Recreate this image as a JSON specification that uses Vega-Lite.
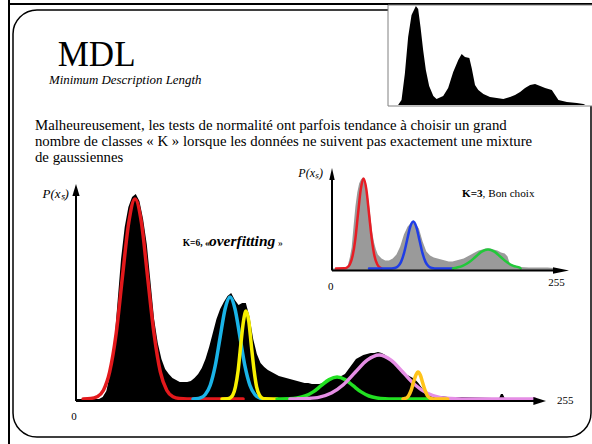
{
  "$schema": "https://vega.github.io/schema/vega-lite/v6.json",
  "width": 578,
  "height": 427,
  "autosize": {"type": "none"},
  "padding": {"left": 13, "top": 10, "right": 1, "bottom": 7},
  "background": "white",
  "config": {
    "view": {"stroke": "#000", "strokeWidth": 1.5, "cornerRadius": 24},
    "mark": {"font": "Liberation Serif"},
    "text": {"font": "Liberation Serif", "color": "#000"}
  },
  "datasets": {
    "main_hist": [
      {"g":0,"n":0},{"g":10,"n":0},{"g":12,"n":0},{"g":14,"n":2},{"g":16,"n":8},{"g":18,"n":25},{"g":20,"n":48},{"g":22,"n":95},{"g":24,"n":140},{"g":26,"n":172},{"g":28,"n":192},{"g":30,"n":202},{"g":32,"n":205},{"g":34,"n":198},{"g":36,"n":180},{"g":38,"n":155},{"g":40,"n":118},{"g":42,"n":80},{"g":44,"n":56},{"g":46,"n":40},{"g":48,"n":30},{"g":50,"n":25},{"g":52,"n":21},{"g":54,"n":19},{"g":56,"n":17},{"g":58,"n":17},{"g":60,"n":17},{"g":62,"n":18},{"g":64,"n":21},{"g":66,"n":25},{"g":68,"n":31},{"g":70,"n":40},{"g":72,"n":52},{"g":74,"n":66},{"g":76,"n":80},{"g":78,"n":90},{"g":80,"n":97},{"g":82,"n":103},{"g":84,"n":106},{"g":86,"n":99},{"g":88,"n":94},{"g":90,"n":96},{"g":92,"n":96},{"g":94,"n":82},{"g":96,"n":60},{"g":98,"n":45},{"g":100,"n":36},{"g":102,"n":32},{"g":104,"n":29},{"g":106,"n":27},{"g":108,"n":25},{"g":110,"n":23},{"g":112,"n":22},{"g":114,"n":21},{"g":116,"n":20},{"g":118,"n":19},{"g":120,"n":18},{"g":122,"n":17},{"g":124,"n":16},{"g":126,"n":16},{"g":128,"n":15},{"g":130,"n":15},{"g":132,"n":15},{"g":134,"n":16},{"g":136,"n":18},{"g":138,"n":20},{"g":140,"n":21},{"g":142,"n":22},{"g":144,"n":23},{"g":146,"n":25},{"g":148,"n":30},{"g":150,"n":35},{"g":152,"n":40},{"g":154,"n":42},{"g":156,"n":44},{"g":158,"n":45},{"g":160,"n":46},{"g":162,"n":46},{"g":164,"n":47},{"g":166,"n":46},{"g":168,"n":44},{"g":170,"n":41},{"g":172,"n":37},{"g":174,"n":33},{"g":176,"n":29},{"g":178,"n":26},{"g":180,"n":24},{"g":182,"n":22},{"g":184,"n":20},{"g":186,"n":16},{"g":188,"n":11},{"g":190,"n":7},{"g":192,"n":5},{"g":194,"n":4},{"g":196,"n":3},{"g":198,"n":3},{"g":202,"n":2},{"g":210,"n":2},{"g":218,"n":1.5},{"g":226,"n":1},{"g":230,"n":1},{"g":231,"n":5},{"g":232,"n":5},{"g":233,"n":1},{"g":236,"n":0.5},{"g":240,"n":0}
    ],
    "main_fit": [
      {"c":"k1","g":3.3,"p":0},{"c":"k1","g":7.5,"p":0.4},{"c":"k1","g":10.9,"p":2.2},{"c":"k1","g":14.4,"p":8.8},{"c":"k1","g":17.8,"p":27.1},{"c":"k1","g":21.3,"p":64.9},{"c":"k1","g":24.7,"p":121.3},{"c":"k1","g":28.2,"p":176.5},{"c":"k1","g":31.6,"p":200},{"c":"k1","g":35.1,"p":176.5},{"c":"k1","g":38.5,"p":121.3},{"c":"k1","g":42,"p":64.9},{"c":"k1","g":45.4,"p":27.1},{"c":"k1","g":48.9,"p":8.8},{"c":"k1","g":52.3,"p":2.2},{"c":"k1","g":55.8,"p":0.4},{"c":"k1","g":60,"p":0},{"c":"k1","g":90.5,"p":0},
      {"c":"k2","g":63.2,"p":0},{"c":"k2","g":64.5,"p":0.2},{"c":"k2","g":67.2,"p":1.1},{"c":"k2","g":69.9,"p":4.5},{"c":"k2","g":72.6,"p":13.8},{"c":"k2","g":75.3,"p":33.1},{"c":"k2","g":78,"p":61.9},{"c":"k2","g":80.7,"p":90},{"c":"k2","g":83.4,"p":102},{"c":"k2","g":86.1,"p":90},{"c":"k2","g":88.8,"p":61.9},{"c":"k2","g":91.5,"p":33.1},{"c":"k2","g":94.2,"p":13.8},{"c":"k2","g":96.9,"p":4.5},{"c":"k2","g":99.6,"p":1.1},{"c":"k2","g":100.8,"p":0},
      {"c":"k3","g":79,"p":0},{"c":"k3","g":82,"p":0.2},{"c":"k3","g":83.4,"p":1},{"c":"k3","g":84.9,"p":3.9},{"c":"k3","g":86.3,"p":11.9},{"c":"k3","g":87.8,"p":28.6},{"c":"k3","g":89.2,"p":53.4},{"c":"k3","g":90.7,"p":77.7},{"c":"k3","g":92.1,"p":88},{"c":"k3","g":93.6,"p":77.7},{"c":"k3","g":95,"p":53.4},{"c":"k3","g":96.5,"p":28.6},{"c":"k3","g":97.9,"p":11.9},{"c":"k3","g":99.4,"p":3.9},{"c":"k3","g":100.8,"p":1},{"c":"k3","g":102.3,"p":0.2},{"c":"k3","g":109,"p":0},
      {"c":"k4","g":109,"p":0},{"c":"k4","g":115.6,"p":0.2},{"c":"k4","g":120,"p":1},{"c":"k4","g":124.3,"p":3},{"c":"k4","g":128.7,"p":7.1},{"c":"k4","g":133,"p":13.3},{"c":"k4","g":137.4,"p":19.4},{"c":"k4","g":141.7,"p":22},{"c":"k4","g":146.1,"p":19.4},{"c":"k4","g":150.4,"p":13.3},{"c":"k4","g":154.8,"p":7.1},{"c":"k4","g":159.1,"p":3},{"c":"k4","g":163.5,"p":1},{"c":"k4","g":167.8,"p":0.2},{"c":"k4","g":172,"p":0},{"c":"k4","g":192.3,"p":0},
      {"c":"k5","g":116,"p":0},{"c":"k5","g":119.1,"p":0.1},{"c":"k5","g":125.6,"p":0.5},{"c":"k5","g":132.1,"p":1.9},{"c":"k5","g":138.6,"p":6},{"c":"k5","g":145.1,"p":14.3},{"c":"k5","g":151.6,"p":26.7},{"c":"k5","g":158.1,"p":38.8},{"c":"k5","g":164.6,"p":44},{"c":"k5","g":171.1,"p":38.8},{"c":"k5","g":177.6,"p":26.7},{"c":"k5","g":184.1,"p":14.3},{"c":"k5","g":190.6,"p":6},{"c":"k5","g":197.1,"p":1.9},{"c":"k5","g":203.6,"p":0.5},{"c":"k5","g":210.1,"p":0.1},{"c":"k5","g":216,"p":0},{"c":"k5","g":249.5,"p":0},
      {"c":"k6","g":177.6,"p":0},{"c":"k6","g":178.3,"p":0.3},{"c":"k6","g":179.6,"p":1.2},{"c":"k6","g":180.8,"p":3.7},{"c":"k6","g":182.1,"p":8.8},{"c":"k6","g":183.3,"p":16.4},{"c":"k6","g":184.6,"p":23.8},{"c":"k6","g":185.8,"p":27},{"c":"k6","g":187.1,"p":23.8},{"c":"k6","g":188.3,"p":16.4},{"c":"k6","g":189.6,"p":8.8},{"c":"k6","g":190.8,"p":3.7},{"c":"k6","g":192.1,"p":1.2},{"c":"k6","g":193.3,"p":0.3},{"c":"k6","g":195,"p":0},{"c":"k6","g":202,"p":0}
    ],
    "inset_hist": [
      {"d":0,"h":0},{"d":12,"h":0},{"d":14,"h":1},{"d":16,"h":3.5},{"d":18,"h":11},{"d":20,"h":21},{"d":22,"h":42},{"d":24,"h":62},{"d":26,"h":76},{"d":28,"h":85},{"d":30,"h":89},{"d":32,"h":91},{"d":34,"h":88},{"d":36,"h":80},{"d":38,"h":68},{"d":40,"h":52},{"d":42,"h":36},{"d":44,"h":26},{"d":46,"h":19},{"d":48,"h":14},{"d":50,"h":12},{"d":52,"h":10},{"d":56,"h":8},{"d":60,"h":8},{"d":64,"h":10},{"d":68,"h":14},{"d":72,"h":22},{"d":76,"h":34},{"d":80,"h":42},{"d":84,"h":46},{"d":86,"h":48},{"d":88,"h":45},{"d":92,"h":40},{"d":96,"h":27},{"d":100,"h":17},{"d":104,"h":13},{"d":108,"h":11},{"d":112,"h":10},{"d":116,"h":9},{"d":120,"h":8},{"d":124,"h":7},{"d":128,"h":7},{"d":132,"h":8},{"d":136,"h":9},{"d":140,"h":10},{"d":144,"h":12},{"d":148,"h":14},{"d":152,"h":16},{"d":156,"h":18},{"d":160,"h":19},{"d":164,"h":20},{"d":168,"h":20},{"d":172,"h":19},{"d":176,"h":18},{"d":180,"h":16},{"d":184,"h":15},{"d":187,"h":12},{"d":190,"h":3},{"d":194,"h":2},{"d":200,"h":1.5},{"d":210,"h":1},{"d":220,"h":1},{"d":230,"h":1},{"d":236,"h":0.5},{"d":240,"h":0}
    ],
    "inset_fit": [
      {"c":"r","d":3.2,"p":0},{"c":"r","d":12,"p":0.2},{"c":"r","d":15,"p":1},{"c":"r","d":18,"p":4},{"c":"r","d":20.9,"p":12.2},{"c":"r","d":23.9,"p":29.2},{"c":"r","d":26.8,"p":54.6},{"c":"r","d":29.8,"p":79.4},{"c":"r","d":32.7,"p":90},{"c":"r","d":35.7,"p":79.4},{"c":"r","d":38.6,"p":54.6},{"c":"r","d":41.6,"p":29.2},{"c":"r","d":44.5,"p":12.2},{"c":"r","d":47.5,"p":4},{"c":"r","d":50.4,"p":1},{"c":"r","d":52,"p":0},
      {"c":"b","d":38.6,"p":0},{"c":"b","d":62.9,"p":0.1},{"c":"b","d":66.2,"p":0.5},{"c":"b","d":69.5,"p":2.1},{"c":"b","d":72.8,"p":6.4},{"c":"b","d":76.1,"p":15.3},{"c":"b","d":79.4,"p":28.5},{"c":"b","d":82.7,"p":41.5},{"c":"b","d":86,"p":47},{"c":"b","d":89.3,"p":41.5},{"c":"b","d":92.6,"p":28.5},{"c":"b","d":95.9,"p":15.3},{"c":"b","d":99.2,"p":6.4},{"c":"b","d":102.5,"p":2.1},{"c":"b","d":105.8,"p":0.5},{"c":"b","d":109.1,"p":0.1},{"c":"b","d":128.6,"p":0},
      {"c":"g","d":128.6,"p":0},{"c":"g","d":132.1,"p":0.8},{"c":"g","d":138.9,"p":2.6},{"c":"g","d":145.7,"p":6.2},{"c":"g","d":152.5,"p":11.5},{"c":"g","d":159.3,"p":16.8},{"c":"g","d":166.1,"p":19},{"c":"g","d":172.9,"p":16.8},{"c":"g","d":179.7,"p":11.5},{"c":"g","d":186.5,"p":6.2},{"c":"g","d":193.3,"p":2.6},{"c":"g","d":200.1,"p":0.8},{"c":"g","d":201,"p":0}
    ],
    "small_hist": [
      {"s":0,"v":0},{"s":11.6,"v":0},{"s":15.5,"v":5},{"s":19.3,"v":31},{"s":23.1,"v":68},{"s":27,"v":90},{"s":32,"v":99},{"s":34.6,"v":96},{"s":37.3,"v":78},{"s":40.3,"v":55},{"s":43.4,"v":35},{"s":47.2,"v":19},{"s":52,"v":9},{"s":55.7,"v":6},{"s":63.3,"v":9},{"s":69,"v":17},{"s":74.8,"v":33},{"s":80.6,"v":45},{"s":84.5,"v":51},{"s":88.3,"v":48},{"s":93.3,"v":47},{"s":96,"v":37},{"s":99.8,"v":20},{"s":103.6,"v":15},{"s":109.4,"v":11},{"s":117,"v":8},{"s":124.7,"v":7},{"s":132.3,"v":6},{"s":140,"v":8},{"s":145.7,"v":10},{"s":151.5,"v":13},{"s":157.2,"v":17},{"s":163,"v":20},{"s":168.7,"v":21},{"s":174.5,"v":19},{"s":180.2,"v":17},{"s":187.9,"v":15},{"s":191.7,"v":10},{"s":195.5,"v":5},{"s":205.2,"v":3},{"s":216.6,"v":2},{"s":224.2,"v":1},{"s":226.4,"v":0},{"s":234,"v":0}
    ]
  },
  "resolve": {"scale": {"x": "independent", "y": "independent", "color": "independent"}},
  "layer": [
    {
      "encoding": {
        "x": {"field": "g", "type": "quantitative", "axis": null, "scale": {"domain": [0, 255], "range": [64, 532], "nice": false, "zero": false}},
        "y": {"field": "n", "type": "quantitative", "axis": null, "scale": {"domain": [0, 216], "range": [389, 173], "nice": false, "zero": false}}
      },
      "layer": [
        {
          "data": {"values": [{"g": -37.05, "n": 399, "g2": -37.05, "n2": -45}, {"g": -37.05, "n": 395, "g2": 281, "n2": 395}]},
          "mark": {"type": "rule", "color": "#000", "strokeWidth": 2},
          "encoding": {"x2": {"field": "g2"}, "y2": {"field": "n2"}}
        },
        {
          "data": {"name": "main_hist"},
          "mark": {"type": "area", "color": "#000", "interpolate": "linear"},
          "encoding": {"y2": {"datum": -1.5}}
        },
        {
          "data": {"name": "main_fit"},
          "mark": {"type": "line", "interpolate": "monotone", "strokeWidth": 3.5, "strokeCap": "round"},
          "encoding": {
            "y": {"field": "p", "type": "quantitative"},
            "color": {"field": "c", "type": "nominal", "legend": null, "scale": {"domain": ["k1", "k2", "k3", "k4", "k5", "k6"], "range": ["#e3191c", "#1ab4e8", "#f8f000", "#22e022", "#e58ee5", "#ffc41a"]}}
          }
        },
        {
          "data": {"values": [{"g": -0.55, "n": -2, "g2": -0.55, "n2": 205}, {"g": -0.55, "n": -2, "g2": 250, "n2": -2}]},
          "mark": {"type": "rule", "color": "#000", "strokeWidth": 2},
          "encoding": {"x2": {"field": "g2"}, "y2": {"field": "n2"}}
        },
        {
          "data": {"values": [{"g": -0.55, "n": 209}]},
          "mark": {"type": "point", "shape": "M-0.6,1L0,-1L0.6,1Z", "size": 144, "filled": true, "color": "#000", "opacity": 1}
        },
        {
          "data": {"values": [{"g": 252.1, "n": -2}]},
          "mark": {"type": "point", "shape": "M-1,-0.63L1,0L-1,0.63Z", "size": 160, "filled": true, "color": "#000", "opacity": 1}
        },
        {
          "data": {"values": [{"g": -10.5, "n": 333.3, "t": "MDL"}]},
          "mark": {"type": "text", "font": "Liberation Serif", "align": "left", "baseline": "alphabetic", "fontSize": 35},
          "encoding": {"text": {"field": "t"}}
        },
        {
          "data": {"values": [{"g": -15.3, "n": 315, "t": "Minimum Description Length"}]},
          "mark": {"type": "text", "font": "Liberation Serif", "align": "left", "baseline": "alphabetic", "fontSize": 12.9, "fontStyle": "italic"},
          "encoding": {"text": {"field": "t"}}
        },
        {
          "data": {"values": [{"g": -22.9, "n": 268.7, "t": "Malheureusement, les tests de normalité ont parfois tendance à choisir un grand\nnombre de classes « K » lorsque les données ne suivent pas exactement une mixture\nde gaussiennes"}]},
          "mark": {"type": "text", "font": "Liberation Serif", "align": "left", "baseline": "alphabetic", "fontSize": 14.8, "lineBreak": "\n", "lineHeight": 16},
          "encoding": {"text": {"field": "t"}}
        },
        {
          "data": {"values": [{"g": -4.4, "n": 201, "t": "P(xₛ)"}]},
          "mark": {"type": "text", "font": "Liberation Serif", "align": "right", "baseline": "alphabetic", "fontSize": 13, "fontStyle": "italic"},
          "encoding": {"text": {"field": "t"}}
        },
        {
          "data": {"values": [{"g": -1.6, "n": -18, "t": "0"}]},
          "mark": {"type": "text", "font": "Liberation Serif", "align": "center", "baseline": "middle", "fontSize": 11},
          "encoding": {"text": {"field": "t"}}
        },
        {
          "data": {"values": [{"g": 261.5, "n": -2, "t": "255"}]},
          "mark": {"type": "text", "font": "Liberation Serif", "align": "left", "baseline": "middle", "fontSize": 11},
          "encoding": {"text": {"field": "t"}}
        },
        {
          "data": {"values": [{"g": 57.6, "n": 152.7, "t": "K=6, «"}]},
          "mark": {"type": "text", "font": "Liberation Serif", "align": "left", "baseline": "alphabetic", "fontSize": 9.5, "fontWeight": "bold"},
          "encoding": {"text": {"field": "t"}}
        },
        {
          "data": {"values": [{"g": 71.9, "n": 152.7, "t": "overfitting"}]},
          "mark": {"type": "text", "font": "Liberation Serif", "align": "left", "baseline": "alphabetic", "fontSize": 15.5, "fontWeight": "bold", "fontStyle": "italic"},
          "encoding": {"text": {"field": "t"}}
        },
        {
          "data": {"values": [{"g": 109.5, "n": 152.7, "t": "»"}]},
          "mark": {"type": "text", "font": "Liberation Serif", "align": "left", "baseline": "alphabetic", "fontSize": 9.5},
          "encoding": {"text": {"field": "t"}}
        }
      ]
    },
    {
      "encoding": {
        "x": {"field": "d", "type": "quantitative", "axis": null, "scale": {"domain": [0, 255], "range": [320, 558], "nice": false, "zero": false}},
        "y": {"field": "h", "type": "quantitative", "axis": null, "scale": {"domain": [0, 101], "range": [258.5, 157.5], "nice": false, "zero": false}}
      },
      "layer": [
        {
          "data": {"name": "inset_hist"},
          "mark": {"type": "area", "color": "#9a9a9a", "interpolate": "linear"},
          "encoding": {"y2": {"datum": -1.5}}
        },
        {
          "data": {"name": "inset_fit"},
          "mark": {"type": "line", "interpolate": "monotone", "strokeWidth": 2.5, "strokeCap": "round"},
          "encoding": {
            "y": {"field": "p", "type": "quantitative"},
            "color": {"field": "c", "type": "nominal", "legend": null, "scale": {"domain": ["r", "b", "g"], "range": ["#e81c24", "#1f3de6", "#22c83a"]}}
          }
        },
        {
          "data": {"values": [{"d": -1.07, "h": -2, "d2": -1.07, "h2": 90}, {"d": -1.07, "h": -2, "d2": 241, "h2": -2}]},
          "mark": {"type": "rule", "color": "#000", "strokeWidth": 2},
          "encoding": {"x2": {"field": "d2"}, "y2": {"field": "h2"}}
        },
        {
          "data": {"values": [{"d": -1.07, "h": 94.5}]},
          "mark": {"type": "point", "shape": "M-0.45,1L0,-1L0.45,1Z", "size": 144, "filled": true, "color": "#000", "opacity": 1}
        },
        {
          "data": {"values": [{"d": 244.3, "h": -2}]},
          "mark": {"type": "point", "shape": "M-1,-0.42L1,0L-1,0.42Z", "size": 256, "filled": true, "color": "#000", "opacity": 1}
        },
        {
          "data": {"values": [{"d": -10.7, "h": 91.5, "t": "P(xₛ)"}]},
          "mark": {"type": "text", "font": "Liberation Serif", "align": "right", "baseline": "alphabetic", "fontSize": 12, "fontStyle": "italic"},
          "encoding": {"text": {"field": "t"}}
        },
        {
          "data": {"values": [{"d": -2.5, "h": -18.5, "t": "0"}, {"d": 239.5, "h": -14.5, "t": "255"}]},
          "mark": {"type": "text", "font": "Liberation Serif", "align": "center", "baseline": "middle", "fontSize": 11},
          "encoding": {"text": {"field": "t"}}
        },
        {
          "data": {"values": [{"d": 138.2, "h": 71.8, "t": "K=3"}]},
          "mark": {"type": "text", "font": "Liberation Serif", "align": "left", "baseline": "alphabetic", "fontSize": 11.2, "fontWeight": "bold"},
          "encoding": {"text": {"field": "t"}}
        },
        {
          "data": {"values": [{"d": 160.3, "h": 71.8, "t": ", Bon choix"}]},
          "mark": {"type": "text", "font": "Liberation Serif", "align": "left", "baseline": "alphabetic", "fontSize": 11.2},
          "encoding": {"text": {"field": "t"}}
        }
      ]
    },
    {
      "encoding": {
        "x": {"field": "s", "type": "quantitative", "axis": null, "scale": {"domain": [0, 234], "range": [375, 579], "nice": false, "zero": false}},
        "y": {"field": "v", "type": "quantitative", "axis": null, "scale": {"domain": [0, 100], "range": [95, -5], "nice": false, "zero": false}}
      },
      "layer": [
        {
          "data": {"values": [{"s": 0, "v": -1, "s2": 240, "v2": 100}]},
          "mark": {"type": "rect", "fill": "#fff", "stroke": "#808080", "strokeWidth": 1},
          "encoding": {"x2": {"field": "s2"}, "y2": {"field": "v2"}}
        },
        {
          "data": {"name": "small_hist"},
          "mark": {"type": "area", "color": "#000", "interpolate": "linear"}
        }
      ]
    }
  ]
}
